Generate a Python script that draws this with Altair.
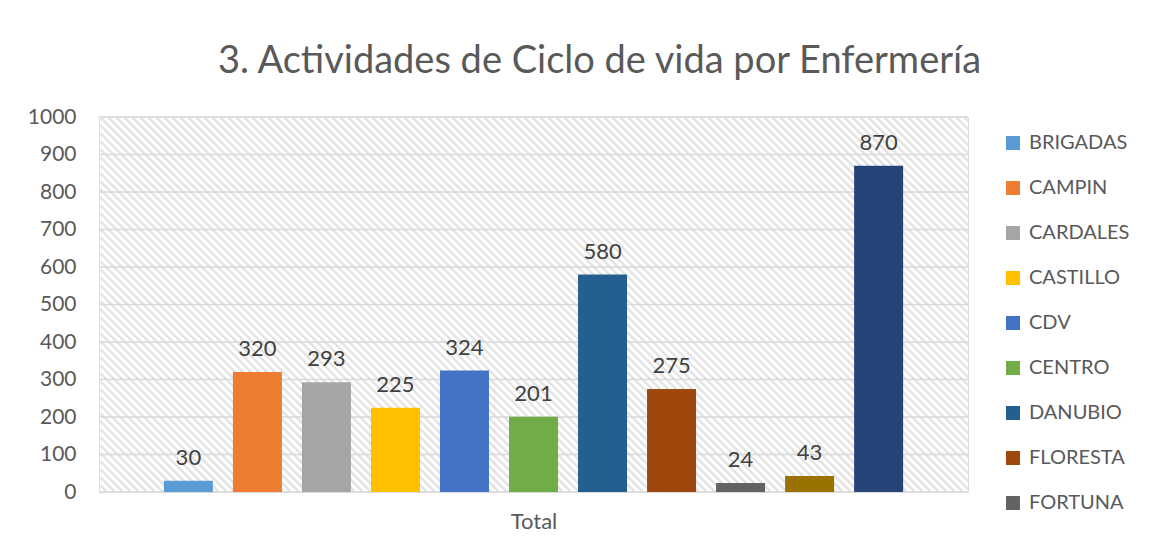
import altair as alt
import pandas as pd
import numpy as np

categories = ["BRIGADAS", "CAMPIN", "CARDALES", "CASTILLO", "CDV", "CENTRO",
              "DANUBIO", "FLORESTA", "FORTUNA", "SERIE 10", "SERIE 11"]
values = [30, 320, 293, 225, 324, 201, 580, 275, 24, 43, 870]
colors = ["#5B9BD5", "#ED7D31", "#A5A5A5", "#FFC000", "#4472C4", "#70AD47",
          "#255E91", "#9E480E", "#636363", "#997300", "#264478"]
y_ticks = list(range(0, 1001, 100))

W, H = 869, 375
FONT = "Lato"
GREY = "#595959"

df = pd.DataFrame({"cat": categories, "val": values})

# decorative diagonal hatch of the plot area (in a hidden pixel-unit scale)
starts = np.arange(-H, W + 8, 8)
hatch_df = pd.DataFrame({"x": starts, "x2": starts + H, "y": H, "y2": 0})
hatch = alt.Chart(hatch_df).mark_rule(color="#E4E4E4", strokeWidth=2.5, clip=True).encode(
    x=alt.X("x:Q", scale=alt.Scale(domain=[0, W], nice=False, zero=False), axis=None),
    x2="x2:Q",
    y=alt.Y("y:Q", scale=alt.Scale(domain=[0, H], nice=False), axis=None),
    y2="y2:Q",
)

xs = alt.X("cat:N", sort=categories,
           scale=alt.Scale(domain=categories, paddingInner=0.29, paddingOuter=0.94),
           axis=alt.Axis(title="Total", labels=False, ticks=False, domain=False,
                         titleFont=FONT, titleFontSize=22, titleColor=GREY,
                         titleFontWeight="normal", titlePadding=19))
yaxis = alt.Axis(title=None, values=y_ticks, tickCount=11, format="d",
                 labelOverlap=False, labelSeparation=0,
                 grid=False, ticks=False, domain=False, labelFont=FONT,
                 labelFontSize=21, labelColor=GREY, labelPadding=23)

grid = alt.Chart(pd.DataFrame({"t": y_ticks})).mark_rule(
    color="#D9D9D9", strokeWidth=1.5).encode(
    y=alt.Y("t:Q", scale=alt.Scale(domain=[0, 1000], nice=False), axis=yaxis))

bars = alt.Chart(df).mark_bar().encode(
    x=xs,
    y=alt.Y("val:Q", axis=yaxis),
    color=alt.Color("cat:N", sort=categories,
                    scale=alt.Scale(domain=categories, range=colors),
                    legend=alt.Legend(title=None, values=categories[:9],
                                      orient="none", legendX=904, legendY=16,
                                      symbolType="square", symbolSize=196,
                                      symbolStrokeWidth=0, labelFont=FONT,
                                      labelFontSize=20, labelColor=GREY,
                                      labelOffset=6, rowPadding=25)),
)

labels = alt.Chart(df).mark_text(font=FONT, fontSize=22, color="#404040",
                                 baseline="bottom", dy=-11).encode(
    x=alt.X("cat:N", sort=categories), y="val:Q", text="val:Q")

main = alt.layer(grid, bars, labels)

chart = alt.layer(hatch, main).resolve_scale(x="independent", y="independent").properties(
    width=W, height=H,
    autosize=alt.AutoSizeParams(type="none"),
    padding={"left": 91, "top": 109, "right": 190, "bottom": 46},
    title=alt.TitleParams("3. Actividades de Ciclo de vida por Enfermería",
                          font=FONT, fontSize=38, color=GREY, fontWeight="normal",
                          anchor="middle", dx=66, dy=10, baseline="alphabetic", offset=5),
).configure_view(stroke="#D9D9D9", strokeWidth=1.5).configure(
    background="white").configure_axisY(labelOverlap=False)

chart.save("out.html", embed_options={"renderer": "svg", "actions": False})
